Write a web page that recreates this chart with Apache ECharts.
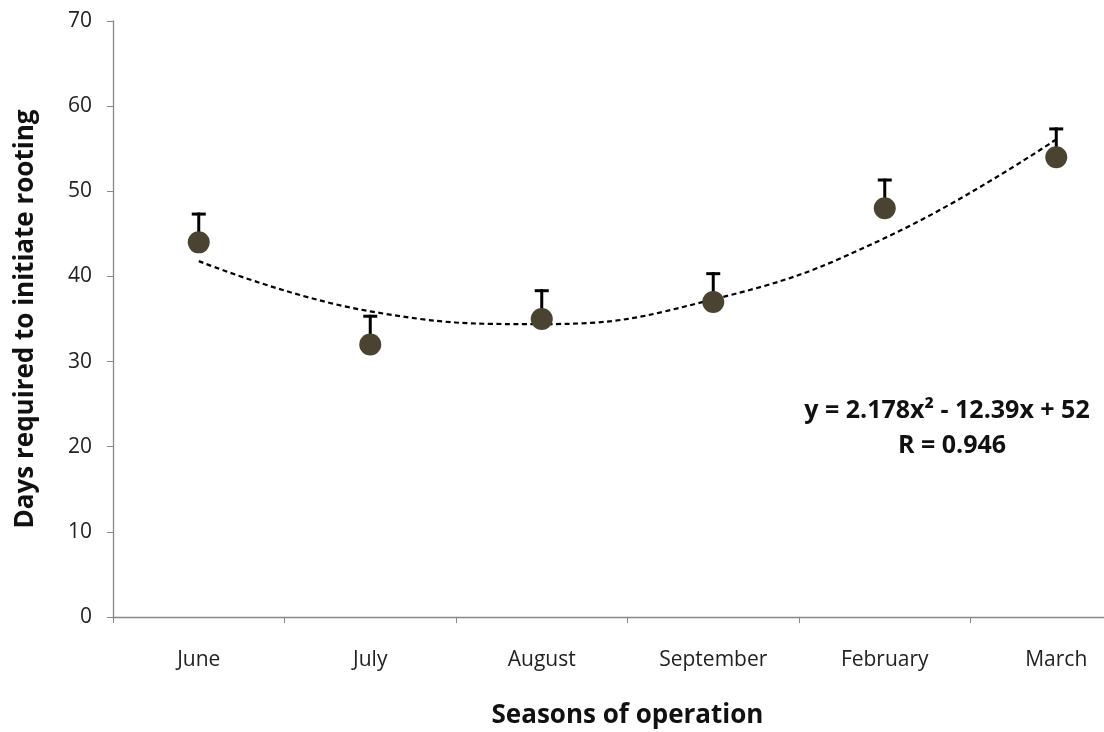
<!DOCTYPE html>
<html>
<head>
<meta charset="utf-8">
<script src="https://cdn.jsdelivr.net/npm/echarts@6/dist/echarts.min.js"></script>
<style>
  html, body { margin: 0; padding: 0; background: #fff; }
  #chart { width: 1104px; height: 732px; }
</style>
</head>
<body>
<div id="chart"></div>
<script>
const seasons = ["June", "July", "August", "September", "February", "March"];
const daysMean = [44, 32, 35, 37, 48, 54];
const daysUpper = [47.5, 35.5, 38.5, 40.5, 51.5, 57.5];
// dashed trend curve at each category
const trendValues = [41.8, 35.9, 34.4, 37.3, 44.5, 56.1];
const yTicks = [0, 70, 10]; // min, max, interval

const font = "'Open Sans', 'DejaVu Sans', sans-serif";
const chart = echarts.init(document.getElementById("chart"), null, { renderer: "canvas" });

chart.setOption({
  animation: false,
  backgroundColor: "#ffffff",
  grid: {
    left: 113,
    top: 21,
    width: 1029,
    height: 596,
    outerBoundsMode: "none",
    containLabel: false,
  },
  xAxis: {
    type: "category",
    data: seasons,
    boundaryGap: true,
    name: "Seasons of operation",
    nameLocation: "middle",
    nameGap: 86,
    nameTextStyle: { fontFamily: font, fontSize: 26, fontWeight: "bold", color: "#111" },
    axisLine: { lineStyle: { color: "#878787", width: 1.3 } },
    axisTick: { show: true, length: 6, alignWithLabel: false, lineStyle: { color: "#878787" } },
    axisLabel: { fontFamily: font, fontSize: 21, color: "#222", margin: 33 },
  },
  yAxis: {
    type: "value",
    min: yTicks[0],
    max: yTicks[1],
    interval: yTicks[2],
    name: "Days required to initiate rooting",
    nameLocation: "middle",
    nameGap: 74,
    nameTextStyle: { fontFamily: font, fontSize: 26, fontWeight: "bold", color: "#111" },
    splitLine: { show: false },
    axisLine: { show: true, lineStyle: { color: "#878787", width: 1.3 } },
    axisTick: { show: true, length: 6, lineStyle: { color: "#878787" } },
    axisLabel: { fontFamily: font, fontSize: 21, color: "#222", margin: 21 },
  },
  series: [
    {
      name: "Trend",
      type: "line",
      data: trendValues,
      smooth: 0.45,
      symbol: "none",
      lineStyle: { color: "#000", width: 2.2, type: [5, 3.5] },
      z: 2,
    },
    {
      name: "Error",
      type: "custom",
      data: seasons.map((s, i) => [i, daysMean[i], daysUpper[i]]),
      renderItem(params, api) {
        const base = api.coord([api.value(0), api.value(1)]);
        const top = api.coord([api.value(0), api.value(2)]);
        return {
          type: "group",
          children: [
            {
              type: "line",
              shape: { x1: base[0], y1: base[1], x2: top[0], y2: top[1] },
              style: { stroke: "#000", lineWidth: 3 },
            },
            {
              type: "line",
              shape: { x1: top[0] - 7, y1: top[1] + 1.5, x2: top[0] + 7, y2: top[1] + 1.5 },
              style: { stroke: "#000", lineWidth: 3 },
            },
          ],
        };
      },
      z: 3,
    },
    {
      name: "Days",
      type: "line",
      data: daysMean,
      symbol: "circle",
      symbolSize: 22,
      lineStyle: { width: 0, opacity: 0 },
      itemStyle: { color: "#4b4331", borderWidth: 0 },
      z: 4,
    },
  ],
  graphic: [
    {
      type: "text",
      x: 947,
      y: 411,
      style: {
        text: "y = 2.178x² - 12.39x + 52",
        font: "bold 25px " + font,
        fill: "#111",
        align: "center",
        verticalAlign: "middle",
      },
    },
    {
      type: "text",
      x: 952,
      y: 446,
      style: {
        text: "R = 0.946",
        font: "bold 25px " + font,
        fill: "#111",
        align: "center",
        verticalAlign: "middle",
      },
    },
  ],
});
</script>
</body>
</html>
